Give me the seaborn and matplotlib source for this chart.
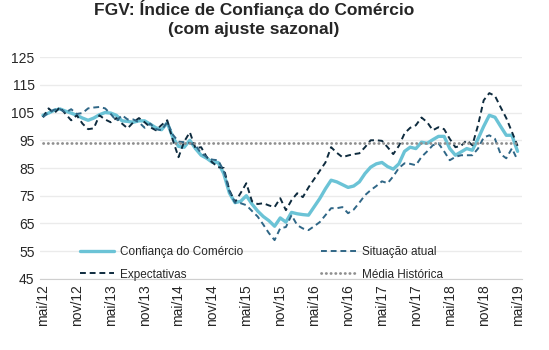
import numpy as np
import pandas as pd
import seaborn as sns
from matplotlib import pyplot as plt

# monthly, mai/12 .. mai/19
meses = ["jan", "fev", "mar", "abr", "mai", "jun", "jul", "ago", "set", "out", "nov", "dez"]

confianca = [104.0, 104.8, 105.8, 106.3, 105.5, 104.8, 104.0, 103.0, 102.2, 103.0,
             104.2, 105.0, 104.8, 104.0, 102.0, 101.8, 101.5, 102.0, 102.0, 100.8,
             99.5, 98.8, 101.3, 96.0, 92.8, 92.5, 95.0, 92.0, 89.6, 88.5,
             87.0, 87.0, 83.0, 76.0, 72.5, 73.0, 75.0, 72.0, 69.5, 67.5,
             66.0, 64.0, 67.0, 65.5, 69.0, 68.5, 68.2, 68.0, 71.0, 74.0,
             77.5, 80.6, 80.0, 79.0, 78.0, 78.5, 80.0, 83.0, 85.3, 86.5,
             87.0, 85.5, 84.6, 86.5, 91.0, 92.5, 92.0, 94.3, 93.9, 95.2,
             96.4, 96.4, 92.0, 89.6, 90.8, 92.0, 91.4, 95.5, 100.0, 104.0,
             103.3, 100.0, 96.8, 96.8, 91.0]

situacao = [103.3, 105.0, 106.0, 106.3, 105.0, 106.2, 104.5, 104.8, 106.5, 106.8,
            107.0, 106.5, 104.5, 102.0, 104.0, 102.5, 102.5, 101.5, 99.5, 101.0,
            99.0, 98.6, 101.5, 97.0, 94.5, 94.3, 94.0, 93.2, 90.3, 89.0,
            88.0, 87.8, 84.0, 76.5, 72.5, 72.3, 71.6, 69.5, 67.5, 64.6,
            61.5, 59.0, 63.3, 63.7, 68.0, 64.4, 63.2, 62.6, 64.0, 65.5,
            68.0, 70.5, 70.5, 70.9, 68.7, 70.0, 72.5, 75.2, 77.0, 78.5,
            80.2, 79.5, 82.0, 85.0, 86.7, 86.5, 86.0, 89.0, 91.0, 93.2,
            93.9, 91.0, 87.8, 89.0, 89.6, 89.6, 89.6, 92.0, 96.0, 96.8,
            95.5, 90.0, 88.5, 92.1, 87.8]

expectativas = [103.3, 106.5, 104.7, 106.9, 104.5, 102.2, 104.0, 101.0, 99.0, 99.3,
                104.0, 102.5, 101.5, 103.0, 101.0, 99.3, 101.5, 103.0, 101.5, 99.7,
                98.6, 100.5, 102.2, 95.0, 88.9, 94.5, 97.9, 92.1, 92.5, 88.9,
                87.0, 85.3, 85.0, 77.0, 72.7, 76.0, 79.5, 73.0, 72.0, 72.3,
                71.5, 70.9, 74.1, 69.8, 73.4, 75.9, 74.5, 78.0, 81.0, 84.0,
                87.0, 92.5, 90.5, 88.9, 89.5, 90.0, 90.3, 92.5, 95.0, 95.0,
                94.8, 92.5, 90.0, 93.0, 97.5, 99.5, 100.4, 103.2, 101.5, 98.6,
                99.7, 99.0, 95.5, 92.5, 93.0, 95.0, 93.2, 100.4, 109.4, 112.0,
                111.0, 106.9, 103.0, 98.0, 93.0]

media_historica = 94.0

n = len(confianca)
labels = []
for i in range(n):
    m = (4 + i) % 12
    a = 12 + (4 + i) // 12
    labels.append(f"{meses[m]}/{a}")

df = pd.DataFrame({
    "mes": np.arange(n),
    "Confiança do Comércio": confianca,
    "Situação atual": situacao,
    "Expectativas": expectativas,
    "Média Histórica": [media_historica] * n,
})

sns.set_style("white")
plt.rcParams["font.family"] = ["Liberation Sans", "DejaVu Sans"]

fig = plt.figure(figsize=(5.49, 3.5), dpi=100)
ax = fig.add_axes([0.073, 0.203, 0.878, 0.634])

sns.lineplot(data=df, x="mes", y="Confiança do Comércio", ax=ax, color="#6BC3D6",
             linewidth=2.4, label="Confiança do Comércio")
sns.lineplot(data=df, x="mes", y="Expectativas", ax=ax, color="#0E2B3E",
             linewidth=1.4, label="Expectativas")
sns.lineplot(data=df, x="mes", y="Situação atual", ax=ax, color="#2F6686",
             linewidth=1.4, label="Situação atual")
sns.lineplot(data=df, x="mes", y="Média Histórica", ax=ax, color="#8F8F8F",
             linewidth=2.0, label="Média Histórica")

lines = ax.get_lines()
lines[1].set_linestyle((0, (3, 2)))
lines[2].set_linestyle((0, (3, 2)))
lines[3].set_linestyle((0, (0.1, 1.6)))
lines[3].set_dash_capstyle("round")

ax.set_ylim(45, 125)
ax.set_yticks(np.arange(45, 126, 10))
ax.set_xlim(-0.5, 84.8)
ax.set_xticks(np.arange(0, n, 6))
ax.set_xticklabels(labels[::6], rotation=90)
ax.tick_params(axis="both", labelsize=10, length=0, pad=4)
ax.set_xlabel("")
ax.set_ylabel("")

ax.grid(axis="y", color="#EBEBEB", linewidth=1)
ax.set_axisbelow(True)
for s in ["top", "right", "left"]:
    ax.spines[s].set_visible(False)
ax.spines["bottom"].set_color("#CFCFCF")

h, l = ax.get_legend_handles_labels()
for hd in h:
    if hd.get_label() == "Média Histórica":
        hd.set_dash_capstyle("round")
leg = ax.legend(h, l, ncol=2, loc="center", bbox_to_anchor=(0.459, 0.071),
                frameon=False, fontsize=8.5, handlelength=2.9, columnspacing=6.6,
                labelspacing=0.9, handletextpad=0.5)

fig.suptitle("FGV: Índice de Confiança do Comércio\n(com ajuste sazonal)",
             x=0.463, y=1.0, fontsize=12.5, fontweight="bold", linespacing=1.3)

plt.savefig("out.png", dpi=100)
